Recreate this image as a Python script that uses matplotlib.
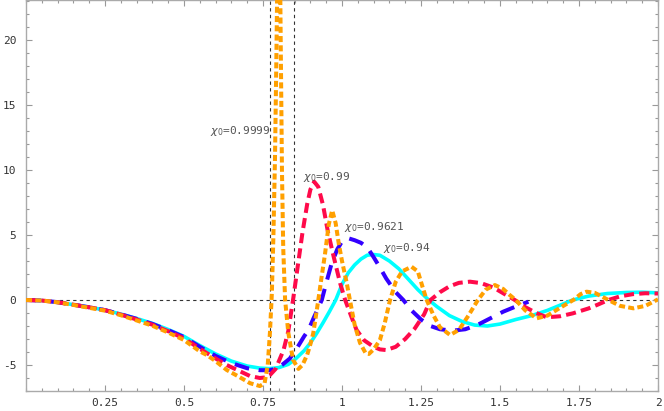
import numpy as np
import matplotlib
matplotlib.use("Agg")
import matplotlib.pyplot as plt

# x positions of the two vertical dashed guide lines
x_marks = [0.771, 0.849]

# chi0 = 0.94 (cyan, solid)
x_094 = [0, 0.05, 0.1, 0.15, 0.2, 0.25, 0.3, 0.35, 0.4, 0.45, 0.5, 0.55, 0.6, 0.65, 0.7, 0.74,
         0.77, 0.8, 0.83, 0.85, 0.88, 0.9, 0.92, 0.94, 0.96, 0.98, 1.0, 1.02, 1.04, 1.06, 1.08,
         1.1, 1.12, 1.15, 1.18, 1.21, 1.24, 1.27, 1.3, 1.34, 1.38, 1.42, 1.46, 1.5, 1.55, 1.6,
         1.65, 1.7, 1.73, 1.78, 1.84, 1.9, 1.95, 2.0]
y_094 = [0, -0.04, -0.17, -0.36, -0.55, -0.77, -1.08, -1.42, -1.8, -2.27, -2.8, -3.5, -4.15, -4.7, -5.08, -5.24,
         -5.28, -5.2, -4.95, -4.6, -3.9, -3.3, -2.56, -1.75, -0.9, 0.0, 1.2, 2.1, 2.7, 3.15, 3.45,
         3.5, 3.44, 3.0, 2.4, 1.6, 0.8, 0.1, -0.5, -1.2, -1.65, -1.93, -2.0, -1.85, -1.5, -1.2,
         -0.8, -0.3, 0.0, 0.3, 0.5, 0.58, 0.6, 0.55]

# chi0 = 0.9621 (blue, long dashes)
x_0962 = [0, 0.05, 0.1, 0.15, 0.2, 0.25, 0.3, 0.35, 0.4, 0.45, 0.5, 0.55, 0.6, 0.65, 0.7, 0.74,
          0.77, 0.79, 0.81, 0.835, 0.86, 0.88, 0.894, 0.91, 0.936, 0.95, 0.967, 0.985, 1.0, 1.02,
          1.04, 1.06, 1.08, 1.1, 1.12, 1.14, 1.17, 1.194, 1.22, 1.25, 1.28, 1.31, 1.35, 1.39,
          1.43, 1.47, 1.51, 1.55, 1.59]
y_0962 = [0, -0.04, -0.17, -0.36, -0.56, -0.78, -1.1, -1.45, -1.84, -2.32, -2.85, -3.6, -4.3, -4.85, -5.25, -5.4,
          -5.4, -5.3, -5.0, -4.5, -3.6, -2.8, -2.3, -1.4, 0.0, 1.3, 2.8, 3.9, 4.5, 4.75,
          4.6, 4.4, 4.05, 3.3, 2.5, 1.65, 0.6, 0.0, -0.8, -1.5, -2.0, -2.25, -2.36, -2.25,
          -1.9, -1.4, -0.9, -0.5, -0.13]

# chi0 = 0.99 (red, dashes)
x_099 = [0, 0.05, 0.1, 0.15, 0.2, 0.25, 0.3, 0.35, 0.4, 0.45, 0.5, 0.55, 0.6, 0.635, 0.67, 0.709,
         0.74, 0.76, 0.772, 0.79, 0.815, 0.83, 0.845, 0.86, 0.875, 0.89, 0.9, 0.912, 0.925, 0.94,
         0.955, 0.973, 0.994, 1.01, 1.03, 1.046, 1.07, 1.1, 1.12, 1.14, 1.17, 1.2, 1.23, 1.26,
         1.28, 1.31, 1.34, 1.37, 1.405, 1.44, 1.48, 1.515, 1.547, 1.58, 1.615, 1.648, 1.69, 1.73,
         1.78, 1.81, 1.843, 1.88, 1.92, 1.96, 2.0]
y_099 = [0, -0.04, -0.17, -0.36, -0.56, -0.78, -1.12, -1.5, -1.9, -2.4, -2.95, -3.75, -4.5, -5.0, -5.4, -5.85,
         -6.0, -5.95, -5.77, -5.3, -3.85, -2.4, 0.0, 2.6, 5.2, 7.4, 8.5, 9.1, 8.7, 7.3,
         5.3, 3.4, 1.3, 0.0, -1.3, -2.3, -3.1, -3.6, -3.8, -3.85, -3.6, -3.0, -2.2, -1.1,
         0.0, 0.6, 1.05, 1.32, 1.41, 1.3, 0.95, 0.45, 0.0, -0.55, -1.0, -1.33, -1.25, -1.03,
         -0.65, -0.35, 0.0, 0.28, 0.45, 0.52, 0.5]

# chi0 = 0.9999 (orange, short dashes)
x_09999 = [0, 0.05, 0.1, 0.15, 0.2, 0.25, 0.3, 0.35, 0.4, 0.45, 0.5, 0.55, 0.572, 0.6, 0.635, 0.67,
           0.709, 0.74, 0.755, 0.765, 0.772, 0.778, 0.783, 0.788, 0.792, 0.797, 0.8, 0.803, 0.806,
           0.81, 0.814, 0.82, 0.83, 0.845, 0.862, 0.875, 0.89, 0.9, 0.909, 0.917, 0.925, 0.935,
           0.946, 0.958, 0.969, 0.98, 0.99, 1.0, 1.015, 1.025, 1.04, 1.057, 1.075, 1.085, 1.1,
           1.12, 1.135, 1.152, 1.17, 1.19, 1.22, 1.24, 1.255, 1.268, 1.29, 1.31, 1.342, 1.37, 1.4,
           1.43, 1.455, 1.484, 1.51, 1.53, 1.55, 1.58, 1.616, 1.65, 1.69, 1.732, 1.755, 1.774, 1.8,
           1.82, 1.843, 1.88, 1.922, 1.96, 2.0]
y_09999 = [0, -0.04, -0.18, -0.38, -0.6, -0.82, -1.17, -1.57, -1.98, -2.5, -3.08, -3.95, -4.23, -4.7, -5.38, -5.85,
           -6.4, -6.62, -6.4, -5.0, -2.5, 0.5, 5.0, 11.0, 18.0, 28.0, 33.0, 28.0, 20.0,
           10.0, 4.0, 0.0, -2.5, -4.6, -5.3, -5.0, -4.2, -3.4, -2.56, -1.3, 0.0, 1.7,
           3.5, 5.8, 6.9, 5.9, 4.3, 3.0, 1.3, 0.0, -1.9, -3.3, -4.1, -4.15, -3.8,
           -3.08, -1.8, 0.0, 1.4, 2.2, 2.56, 2.2, 1.0, 0.0, -1.2, -2.1, -2.69, -2.3, -1.2,
           0.0, 0.8, 1.15, 0.85, 0.4, 0.0, -0.8, -1.41, -1.2, -0.6, 0.0, 0.45, 0.64, 0.55,
           0.3, 0.0, -0.45, -0.64, -0.45, 0.05]

labels = ["$\\chi_0$=0.9999", "$\\chi_0$=0.99", "$\\chi_0$=0.9621", "$\\chi_0$=0.94"]
label_xy = [(0.582, 13.0), (0.876, 9.5), (1.006, 5.6), (1.129, 4.0)]

xticks = [0.25, 0.5, 0.75, 1, 1.25, 1.5, 1.75, 2]
xticklabels = ["0.25", "0.5", "0.75", "1", "1.25", "1.5", "1.75", "2"]
yticks = [-5, 0, 5, 10, 15, 20]
yticklabels = ["-5", "0", "5", "10", "15", "20"]

fig = plt.figure(figsize=(6.64, 4.11), dpi=100)
ax = fig.add_axes([26/664, 20/411, 632/664, 391/411])

# guide lines
ax.axhline(0, color='#333333', lw=0.8, linestyle=(0, (3, 3)), zorder=1)
for xm in x_marks:
    ax.axvline(xm, color='#333333', lw=0.8, linestyle=(0, (3, 3)), zorder=1)

# curves
ax.plot(x_094, y_094, color='#00FFFF', lw=2.6, solid_joinstyle='round', zorder=2)
ax.plot(x_0962, y_0962, color='#3300FF', lw=2.9, linestyle=(0, (3.7, 2.4)), zorder=3)
ax.plot(x_099, y_099, color='#FF0A4A', lw=2.9, linestyle=(0, (2.5, 1.3)), zorder=4)
ax.plot(x_09999, y_09999, color='#FFA000', lw=2.9, linestyle=(0, (1.5, 0.8)), zorder=5)

for txt, (tx, ty) in zip(labels, label_xy):
    ax.text(tx, ty, txt, fontsize=8, family='DejaVu Sans Mono', color='#555555',
            ha='left', va='center', zorder=6)

ax.set_xlim(0, 2)
ax.set_ylim(-7, 23.08)
ax.set_xticks(xticks)
ax.set_xticklabels(xticklabels, family='DejaVu Sans Mono', fontsize=8, color='#333333')
ax.set_yticks(yticks)
ax.set_yticklabels(yticklabels, family='DejaVu Sans Mono', fontsize=8, color='#333333')
ax.set_xticks(np.arange(0, 2.001, 0.05), minor=True)
ax.set_yticks(np.arange(-7, 23.5, 1), minor=True)
ax.tick_params(which='both', direction='in', top=True, right=True, color='#999999', width=0.8)
ax.tick_params(which='major', length=4.5)
ax.tick_params(which='minor', length=2.5)
ax.tick_params(axis='x', pad=5)
ax.tick_params(axis='y', pad=7)
for s in ax.spines.values():
    s.set_color('#aaaaaa')
    s.set_linewidth(1.0)

fig.savefig('out.png', dpi=100)
